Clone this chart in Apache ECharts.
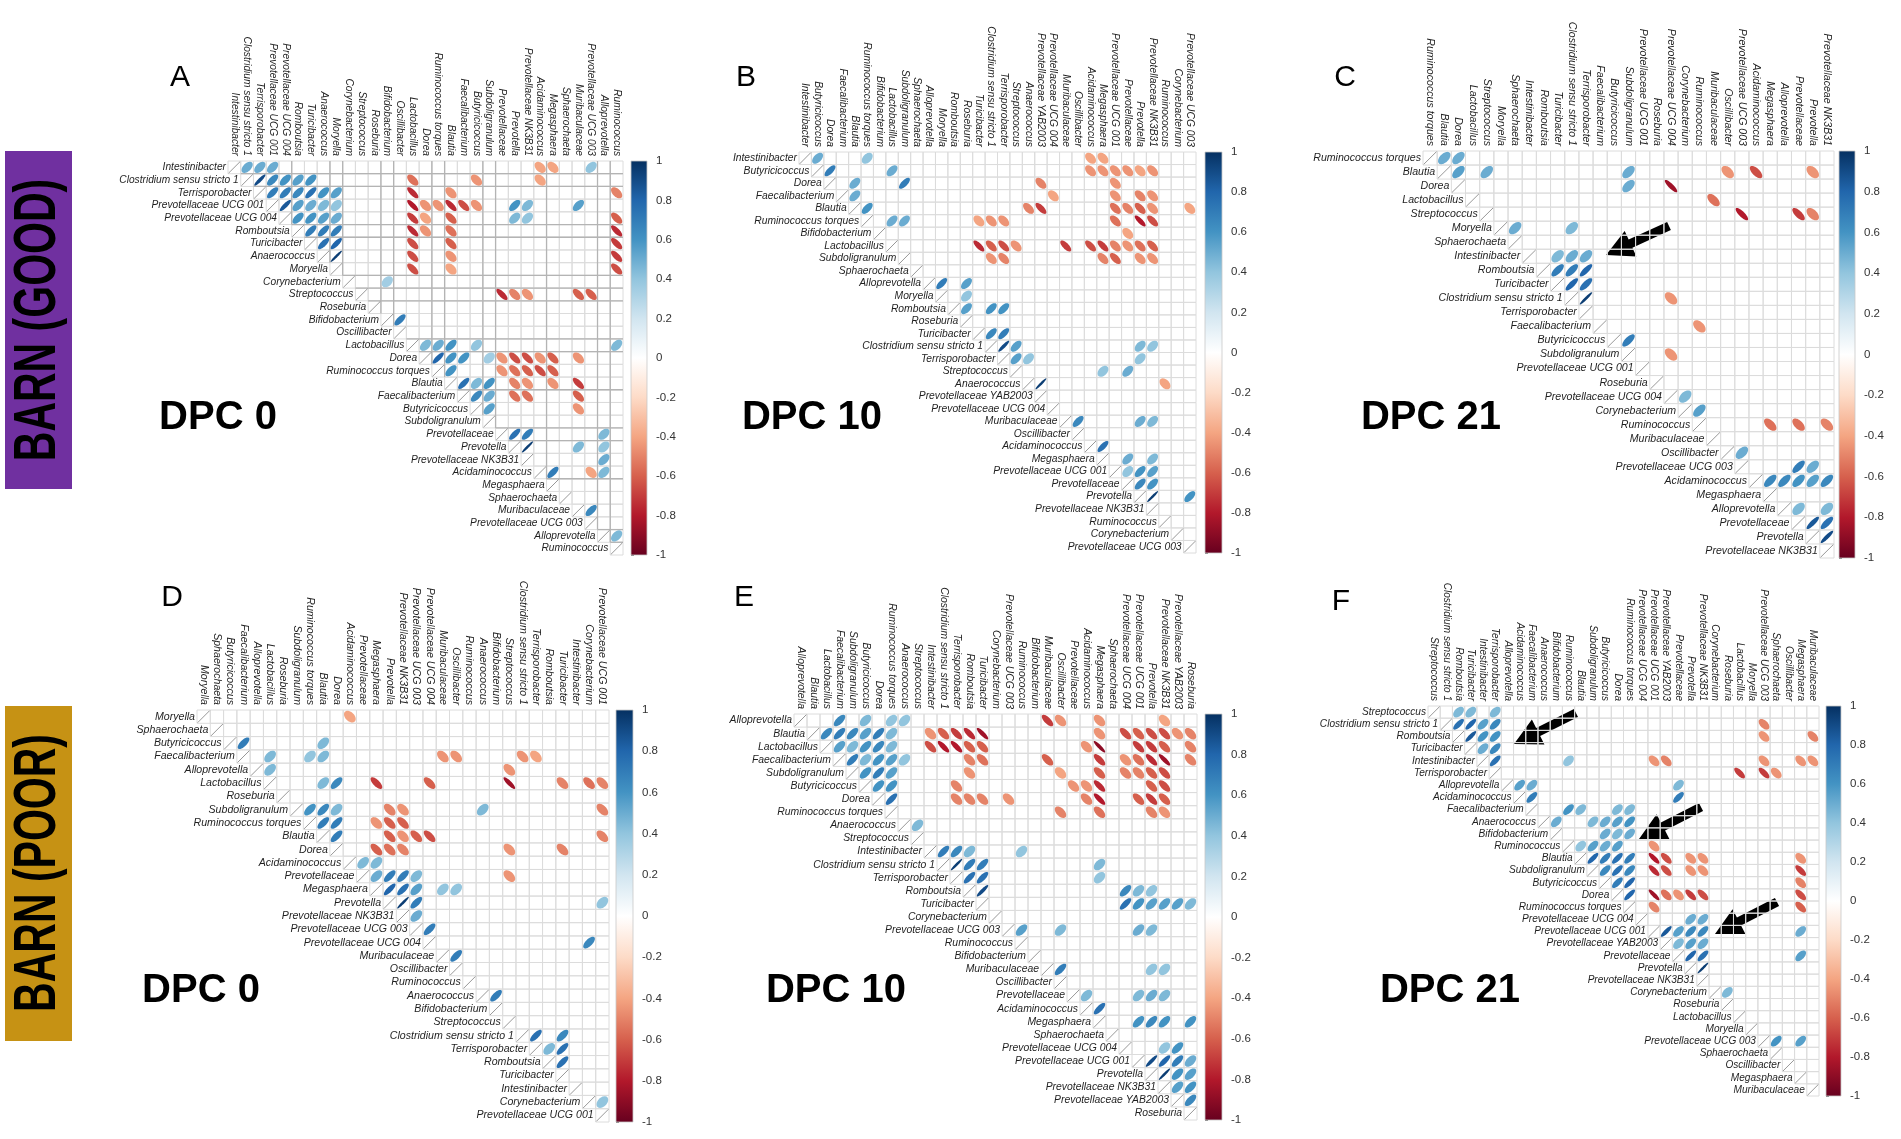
<!DOCTYPE html>
<html>
<head>
<meta charset="utf-8">
<title>Correlation matrices</title>
<script src="https://cdn.jsdelivr.net/npm/echarts/dist/echarts.min.js"></script>
<style>
  html, body { margin: 0; padding: 0; background: #fff; }
  #main { width: 1901px; height: 1139px; }
</style>
</head>
<body>
<div id="main"></div>
<script>
// ---- taxa order (rows = columns) per panel ----
const taxaA = ['Intestinibacter', 'Clostridium sensu stricto 1', 'Terrisporobacter', 'Prevotellaceae UCG 001', 'Prevotellaceae UCG 004', 'Romboutsia', 'Turicibacter', 'Anaerococcus', 'Moryella', 'Corynebacterium', 'Streptococcus', 'Roseburia', 'Bifidobacterium', 'Oscillibacter', 'Lactobacillus', 'Dorea', 'Ruminococcus torques', 'Blautia', 'Faecalibacterium', 'Butyricicoccus', 'Subdoligranulum', 'Prevotellaceae', 'Prevotella', 'Prevotellaceae NK3B31', 'Acidaminococcus', 'Megasphaera', 'Sphaerochaeta', 'Muribaculaceae', 'Prevotellaceae UCG 003', 'Alloprevotella', 'Ruminococcus']
const taxaB = ['Intestinibacter', 'Butyricicoccus', 'Dorea', 'Faecalibacterium', 'Blautia', 'Ruminococcus torques', 'Bifidobacterium', 'Lactobacillus', 'Subdoligranulum', 'Sphaerochaeta', 'Alloprevotella', 'Moryella', 'Romboutsia', 'Roseburia', 'Turicibacter', 'Clostridium sensu stricto 1', 'Terrisporobacter', 'Streptococcus', 'Anaerococcus', 'Prevotellaceae YAB2003', 'Prevotellaceae UCG 004', 'Muribaculaceae', 'Oscillibacter', 'Acidaminococcus', 'Megasphaera', 'Prevotellaceae UCG 001', 'Prevotellaceae', 'Prevotella', 'Prevotellaceae NK3B31', 'Ruminococcus', 'Corynebacterium', 'Prevotellaceae UCG 003']
const taxaC = ['Ruminococcus torques', 'Blautia', 'Dorea', 'Lactobacillus', 'Streptococcus', 'Moryella', 'Sphaerochaeta', 'Intestinibacter', 'Romboutsia', 'Turicibacter', 'Clostridium sensu stricto 1', 'Terrisporobacter', 'Faecalibacterium', 'Butyricicoccus', 'Subdoligranulum', 'Prevotellaceae UCG 001', 'Roseburia', 'Prevotellaceae UCG 004', 'Corynebacterium', 'Ruminococcus', 'Muribaculaceae', 'Oscillibacter', 'Prevotellaceae UCG 003', 'Acidaminococcus', 'Megasphaera', 'Alloprevotella', 'Prevotellaceae', 'Prevotella', 'Prevotellaceae NK3B31']
const taxaD = ['Moryella', 'Sphaerochaeta', 'Butyricicoccus', 'Faecalibacterium', 'Alloprevotella', 'Lactobacillus', 'Roseburia', 'Subdoligranulum', 'Ruminococcus torques', 'Blautia', 'Dorea', 'Acidaminococcus', 'Prevotellaceae', 'Megasphaera', 'Prevotella', 'Prevotellaceae NK3B31', 'Prevotellaceae UCG 003', 'Prevotellaceae UCG 004', 'Muribaculaceae', 'Oscillibacter', 'Ruminococcus', 'Anaerococcus', 'Bifidobacterium', 'Streptococcus', 'Clostridium sensu stricto 1', 'Terrisporobacter', 'Romboutsia', 'Turicibacter', 'Intestinibacter', 'Corynebacterium', 'Prevotellaceae UCG 001']
const taxaE = ['Alloprevotella', 'Blautia', 'Lactobacillus', 'Faecalibacterium', 'Subdoligranulum', 'Butyricicoccus', 'Dorea', 'Ruminococcus torques', 'Anaerococcus', 'Streptococcus', 'Intestinibacter', 'Clostridium sensu stricto 1', 'Terrisporobacter', 'Romboutsia', 'Turicibacter', 'Corynebacterium', 'Prevotellaceae UCG 003', 'Ruminococcus', 'Bifidobacterium', 'Muribaculaceae', 'Oscillibacter', 'Prevotellaceae', 'Acidaminococcus', 'Megasphaera', 'Sphaerochaeta', 'Prevotellaceae UCG 004', 'Prevotellaceae UCG 001', 'Prevotella', 'Prevotellaceae NK3B31', 'Prevotellaceae YAB2003', 'Roseburia']
const taxaF = ['Streptococcus', 'Clostridium sensu stricto 1', 'Romboutsia', 'Turicibacter', 'Intestinibacter', 'Terrisporobacter', 'Alloprevotella', 'Acidaminococcus', 'Faecalibacterium', 'Anaerococcus', 'Bifidobacterium', 'Ruminococcus', 'Blautia', 'Subdoligranulum', 'Butyricicoccus', 'Dorea', 'Ruminococcus torques', 'Prevotellaceae UCG 004', 'Prevotellaceae UCG 001', 'Prevotellaceae YAB2003', 'Prevotellaceae', 'Prevotella', 'Prevotellaceae NK3B31', 'Corynebacterium', 'Roseburia', 'Lactobacillus', 'Moryella', 'Prevotellaceae UCG 003', 'Sphaerochaeta', 'Oscillibacter', 'Megasphaera', 'Muribaculaceae']

// ---- significant correlations: [row, col, r] (upper triangle) ----
const corrA = [
  [0, 1, .5], [0, 2, .5], [0, 3, .5], [0, 24, -.4], [0, 25, -.4], [0, 28, .4],
  [1, 2, .9], [1, 3, .65], [1, 4, .6], [1, 5, .55], [1, 6, .6], [1, 14, -.55], [1, 19, -.45], [1, 24, -.4],
  [2, 3, .7], [2, 4, .7], [2, 5, .65], [2, 6, .75], [2, 7, .6], [2, 8, .55], [2, 14, -.75], [2, 17, -.45], [2, 30, -.5],
  [3, 4, .85], [3, 5, .55], [3, 6, .5], [3, 7, .45], [3, 8, .4], [3, 14, -.8], [3, 15, -.45], [3, 16, -.45], [3, 17, -.75], [3, 18, -.65], [3, 19, -.45], [3, 22, .6], [3, 23, .45], [3, 27, .55],
  [4, 5, .6], [4, 6, .6], [4, 7, .55], [4, 8, .5], [4, 14, -.7], [4, 15, -.4], [4, 17, -.6], [4, 22, .45], [4, 23, .4], [4, 30, -.6],
  [5, 6, .7], [5, 7, .7], [5, 8, .7], [5, 14, -.75], [5, 15, -.45], [5, 17, -.55], [5, 30, -.75],
  [6, 7, .75], [6, 8, .8], [6, 14, -.65], [6, 17, -.6], [6, 30, -.7],
  [7, 8, .95], [7, 14, -.65], [7, 17, -.45], [7, 30, -.7],
  [8, 14, -.65], [8, 17, -.4], [8, 30, -.65],
  [9, 12, .35],
  [10, 21, -.75], [10, 22, -.5], [10, 23, -.45], [10, 27, -.6], [10, 28, -.6],
  [12, 13, .7],
  [14, 15, .45], [14, 16, .5], [14, 17, .6], [14, 19, .4], [14, 30, .45],
  [15, 16, .8], [15, 17, .6], [15, 18, .6], [15, 20, .35], [15, 21, -.45], [15, 22, -.65], [15, 23, -.65], [15, 24, -.45], [15, 25, -.6], [15, 27, -.45],
  [16, 17, .6], [16, 21, -.45], [16, 22, -.55], [16, 23, -.6], [16, 24, -.65], [16, 25, -.6],
  [17, 18, .75], [17, 19, .45], [17, 20, .6], [17, 22, -.5], [17, 23, -.45], [17, 25, -.45], [17, 27, -.7],
  [18, 19, .65], [18, 20, .5], [18, 22, -.55], [18, 23, -.55], [18, 27, -.6],
  [19, 20, .55], [19, 27, -.45],
  [21, 22, .75], [21, 23, .7], [21, 29, .45],
  [22, 23, .95], [22, 27, .45], [22, 29, .4],
  [23, 29, .5],
  [24, 25, .7], [24, 28, -.4], [24, 29, .45],
  [27, 28, .65],
  [29, 30, .45]
]
const corrB = [
  [0, 1, .5], [0, 5, .4], [0, 23, -.4], [0, 24, -.4],
  [1, 2, .7], [1, 7, .5], [1, 23, -.45], [1, 24, -.45], [1, 25, -.45], [1, 26, -.45], [1, 27, -.4], [1, 28, -.45],
  [2, 4, .5], [2, 8, .7], [2, 19, -.5], [2, 25, -.45],
  [3, 4, .5], [3, 20, -.4], [3, 25, -.45], [3, 27, -.5], [3, 28, -.45],
  [4, 5, .6], [4, 18, -.5], [4, 19, -.7], [4, 25, -.55], [4, 26, -.5], [4, 27, -.6], [4, 28, -.45], [4, 31, -.4],
  [5, 7, .5], [5, 8, .5], [5, 14, -.4], [5, 15, -.45], [5, 16, -.45], [5, 25, -.55], [5, 27, -.8], [5, 28, -.65],
  [6, 26, -.4],
  [7, 14, -.75], [7, 15, -.6], [7, 16, -.65], [7, 17, -.45], [7, 21, -.7], [7, 23, -.65], [7, 24, -.7], [7, 25, -.5], [7, 26, -.45], [7, 27, -.55], [7, 28, -.6],
  [8, 15, -.45], [8, 16, -.5], [8, 24, -.5], [8, 25, -.6], [8, 27, -.45], [8, 28, -.45],
  [10, 11, .7], [10, 13, .55],
  [11, 13, .4],
  [12, 13, .55], [12, 15, .6], [12, 16, .6],
  [14, 15, .65], [14, 16, .7],
  [15, 16, .9], [15, 17, .55], [15, 27, .45], [15, 28, .4],
  [16, 17, .55], [16, 18, .4], [16, 27, .4],
  [17, 24, .4], [17, 26, .5],
  [18, 19, .95], [18, 29, -.4],
  [21, 22, .65], [21, 27, .5], [21, 28, .45],
  [23, 24, .75],
  [24, 26, .5], [24, 28, .45],
  [25, 26, .4], [25, 27, .6], [25, 28, .55],
  [26, 27, .65], [26, 28, .6],
  [27, 28, .95], [27, 31, .6]
]
const corrC = [
  [0, 1, .5], [0, 2, .5],
  [1, 2, .55], [1, 4, .5], [1, 14, .5], [1, 21, -.45], [1, 23, -.65], [1, 27, -.45],
  [2, 14, .5], [2, 17, -.85],
  [3, 20, -.55],
  [4, 22, -.8], [4, 26, -.7], [4, 27, -.5],
  [5, 6, .5], [5, 10, .45],
  [7, 9, .45], [7, 10, .5], [7, 11, .5],
  [8, 9, .7], [8, 10, .7], [8, 11, .8],
  [9, 10, .8], [9, 11, .75],
  [10, 11, .95], [10, 17, -.45],
  [12, 19, -.45],
  [13, 14, .7],
  [14, 17, -.45],
  [17, 18, .45],
  [18, 19, .55],
  [19, 24, -.55], [19, 26, -.55], [19, 28, -.5],
  [21, 22, .5],
  [22, 26, .7], [22, 27, .5],
  [23, 24, .65], [23, 25, .65], [23, 26, .6], [23, 27, .55], [23, 28, .65],
  [25, 26, .45], [25, 28, .45],
  [26, 27, .85], [26, 28, .75],
  [27, 28, .9]
]
const corrD = [
  [0, 11, -.4],
  [2, 3, .7], [2, 9, .45],
  [3, 5, .45], [3, 8, .4], [3, 9, .45], [3, 18, -.45], [3, 19, -.45], [3, 24, -.45], [3, 25, -.4],
  [4, 5, .45], [4, 23, -.45],
  [5, 9, .45], [5, 10, .65], [5, 13, -.7], [5, 17, -.6], [5, 23, -.85], [5, 27, -.5], [5, 29, -.55], [5, 30, -.5],
  [7, 8, .6], [7, 9, .65], [7, 10, .45], [7, 14, -.5], [7, 15, -.45], [7, 21, .45], [7, 30, -.5],
  [8, 9, .7], [8, 10, .7], [8, 13, -.45], [8, 14, -.6], [8, 15, -.6],
  [9, 10, .7], [9, 14, -.6], [9, 15, -.45], [9, 16, -.6], [9, 17, -.65], [9, 30, -.5],
  [10, 13, -.6], [10, 14, -.55], [10, 15, -.5], [10, 23, -.45], [10, 27, -.5],
  [11, 12, .45], [11, 13, .45],
  [12, 13, .5], [12, 14, .7], [12, 15, .7], [12, 16, .45], [12, 23, -.45],
  [13, 14, .8], [13, 15, .75], [13, 16, .55], [13, 18, .4], [13, 19, .4],
  [14, 15, .95], [14, 16, .7], [14, 30, .4],
  [15, 16, .5],
  [16, 17, .7],
  [17, 29, .65],
  [18, 19, .7],
  [21, 22, .7],
  [24, 25, .75], [24, 27, .65],
  [25, 26, .45], [25, 27, .75],
  [26, 27, .75],
  [29, 30, .4]
]
const corrE = [
  [0, 3, .65], [0, 5, .45], [0, 7, .4], [0, 8, .4], [0, 19, -.7], [0, 20, -.45], [0, 23, -.45], [0, 28, -.4],
  [1, 2, .65], [1, 3, .7], [1, 4, .65], [1, 5, .55], [1, 6, .7], [1, 7, .45], [1, 10, -.45], [1, 11, -.6], [1, 12, -.7], [1, 13, -.75], [1, 14, -.85], [1, 23, -.45], [1, 25, -.65], [1, 26, -.6], [1, 27, -.65], [1, 28, -.65], [1, 29, -.45], [1, 30, -.5],
  [2, 3, .55], [2, 4, .45], [2, 5, .6], [2, 6, .65], [2, 7, .45], [2, 10, -.65], [2, 11, -.8], [2, 12, -.8], [2, 13, -.6], [2, 14, -.6], [2, 22, -.45], [2, 23, -.9], [2, 26, -.7], [2, 27, -.7], [2, 28, -.6], [2, 30, -.5],
  [3, 4, .7], [3, 5, .45], [3, 6, .6], [3, 7, .55], [3, 8, .4], [3, 13, -.5], [3, 14, -.55], [3, 19, -.6], [3, 23, -.7], [3, 25, -.45], [3, 26, -.55], [3, 27, -.75], [3, 28, -.85], [3, 30, -.5],
  [4, 5, .6], [4, 6, .7], [4, 7, .55], [4, 13, -.45], [4, 20, -.4], [4, 23, -.6], [4, 25, -.5], [4, 26, -.5], [4, 27, -.6], [4, 28, -.65],
  [5, 6, .6], [5, 7, .6], [5, 12, -.5], [5, 21, -.45], [5, 22, -.45], [5, 23, -.75], [5, 27, -.6], [5, 28, -.65],
  [6, 7, .75], [6, 12, -.5], [6, 13, -.5], [6, 14, -.5], [6, 16, -.45], [6, 22, -.5], [6, 23, -.8], [6, 26, -.6], [6, 27, -.7], [6, 28, -.6],
  [7, 20, -.5], [7, 23, -.55], [7, 27, -.5], [7, 28, -.45],
  [8, 9, .45],
  [10, 11, .7], [10, 12, .65], [10, 13, .45], [10, 17, .4],
  [11, 12, .95], [11, 13, .7], [11, 14, .7], [11, 23, .45],
  [12, 13, .75], [12, 14, .75], [12, 23, .4],
  [13, 14, .9], [13, 25, .65], [13, 26, .45], [13, 27, .4],
  [14, 25, .75], [14, 26, .6], [14, 27, .55], [14, 28, .55], [14, 29, .55], [14, 30, .45],
  [16, 17, .55], [16, 20, .45], [16, 26, .5], [16, 27, .45],
  [19, 20, .7], [19, 27, .4], [19, 28, .4],
  [21, 22, .45], [21, 26, .45], [21, 27, .5], [21, 28, .45],
  [22, 23, .75],
  [23, 26, .6], [23, 27, .65], [23, 28, .6], [23, 30, .6],
  [25, 28, .4], [25, 29, .6],
  [26, 27, .9], [26, 28, .8], [26, 29, .7], [26, 30, .5],
  [27, 28, .95], [27, 29, .6], [27, 30, .55],
  [28, 29, .55], [28, 30, .6],
  [29, 30, .65]
]
const corrF = [
  [0, 2, .45], [0, 3, .45], [0, 5, .45],
  [1, 2, .75], [1, 3, .8], [1, 4, .55], [1, 5, .65], [1, 27, -.5],
  [2, 3, .85], [2, 4, .6], [2, 5, .6], [2, 27, -.45], [2, 31, -.5],
  [3, 4, .5], [3, 5, .65],
  [4, 5, .75], [4, 11, .4], [4, 18, -.45], [4, 19, -.5], [4, 27, -.45], [4, 30, -.45], [4, 31, -.45],
  [5, 25, -.7], [5, 27, -.7], [5, 28, -.45],
  [6, 7, .55], [6, 8, .5], [6, 20, .45],
  [7, 8, .7], [7, 20, .7],
  [8, 11, .6], [8, 12, .45], [8, 15, .45], [8, 16, .45],
  [9, 10, .5], [9, 13, .45], [9, 14, .5], [9, 15, .55], [9, 16, .6],
  [10, 14, .5], [10, 15, .45], [10, 16, .5],
  [11, 12, .4], [11, 13, .55], [11, 14, .5], [11, 15, .55], [11, 18, -.45],
  [12, 13, .8], [12, 14, .7], [12, 15, .75], [12, 16, .7], [12, 18, -.8], [12, 19, -.65], [12, 21, -.45], [12, 22, -.45], [12, 30, -.45],
  [13, 14, .65], [13, 15, .75], [13, 16, .65], [13, 18, -.75], [13, 19, -.65], [13, 21, -.45], [13, 22, -.45], [13, 30, -.7],
  [14, 15, .7], [14, 16, .8], [14, 30, -.5],
  [15, 16, .8], [15, 18, -.85], [15, 19, -.55], [15, 20, -.45], [15, 21, -.7], [15, 22, -.65], [15, 30, -.65],
  [16, 18, -.5], [16, 30, -.6],
  [17, 21, .5], [17, 22, .5],
  [18, 19, .85], [18, 20, .55], [18, 21, .65], [18, 22, .65], [18, 30, .5],
  [19, 20, .45], [19, 21, .55], [19, 22, .5],
  [20, 21, .8], [20, 22, .75], [20, 30, .55],
  [21, 22, .95],
  [23, 24, .45],
  [27, 28, .6], [27, 30, .55]
]
// cluster boundaries drawn darker in panel A
const vLinesA = [5, 8, 9, 12, 13, 16, 17, 20, 21, 25, 29, 30]
const hLinesA = [1, 2, 5, 6, 9, 10, 11, 14, 15, 18, 21, 22, 25, 29, 30]

// ---- layout ----
const FONT = '"Liberation Sans", Arial, sans-serif'
const panels = [
  { letter: 'A', dpc: 'DPC 0', taxa: taxaA, corr: corrA, grid: [228, 161, 395, 394], bar: [631, 161, 16, 394], fs: 10.2, letterAt: [180, 78], dpcAt: [218, 418] },
  { letter: 'B', dpc: 'DPC 10', taxa: taxaB, corr: corrB, grid: [799, 152, 397, 401], bar: [1205, 152, 17, 401], fs: 10.3, letterAt: [746, 78], dpcAt: [812, 418] },
  { letter: 'C', dpc: 'DPC 21', taxa: taxaC, corr: corrC, grid: [1423, 151, 411, 407], bar: [1839, 151, 16, 407], fs: 10.6, letterAt: [1345, 78], dpcAt: [1431, 418] },
  { letter: 'D', dpc: 'DPC 0', taxa: taxaD, corr: corrD, grid: [197, 710, 412, 412], bar: [616, 710, 17, 412], fs: 10.6, letterAt: [172, 598], dpcAt: [201, 991] },
  { letter: 'E', dpc: 'DPC 10', taxa: taxaE, corr: corrE, grid: [794, 714, 403, 406], bar: [1205, 714, 17, 406], fs: 10.4, letterAt: [744, 598], dpcAt: [836, 991] },
  { letter: 'F', dpc: 'DPC 21', taxa: taxaF, corr: corrF, grid: [1428, 706, 391, 390], bar: [1826, 706, 15, 390], fs: 10.1, letterAt: [1341, 602], dpcAt: [1450, 991] }
]

const RDBU = ['#67001F', '#B2182B', '#D6604D', '#F4A582', '#FDDBC7', '#FFFFFF', '#D1E5F0', '#92C5DE', '#4393C3', '#2166AC', '#053061']

function hexRgb(h) {
  return [parseInt(h.slice(1, 3), 16), parseInt(h.slice(3, 5), 16), parseInt(h.slice(5, 7), 16)]
}
function colorOf(r) {
  const t = (Math.max(-1, Math.min(1, r)) + 1) / 2 * 10
  const i = Math.min(9, Math.floor(t))
  const f = t - i
  const a = hexRgb(RDBU[i]), b = hexRgb(RDBU[i + 1])
  const c = a.map((v, k) => Math.round(v + (b[k] - v) * f))
  return 'rgb(' + c.join(',') + ')'
}

function renderCell(params, api) {
  const c = api.coord([api.value(0), api.value(1)])
  const s = api.size([1, 1])
  return {
    type: 'rect',
    shape: { x: c[0] - s[0] / 2, y: c[1] - s[1] / 2, width: s[0], height: s[1] },
    style: { fill: 'none', stroke: '#dcdcdc', lineWidth: 1 }
  }
}

function renderEllipse(params, api) {
  const c = api.coord([api.value(0), api.value(1)])
  const s = api.size([1, 1])
  const r = api.value(2)
  const d = Math.acos(r)
  const pts = []
  for (let k = 0; k < 60; k++) {
    const t = k / 60 * Math.PI * 2
    pts.push([c[0] + Math.cos(t + d / 2) * s[0] * 0.44, c[1] - Math.cos(t - d / 2) * s[1] * 0.44])
  }
  return { type: 'polygon', shape: { points: pts }, style: { fill: colorOf(r) } }
}

function makeDiag(taxa, fs) {
  return function (params, api) {
    const c = api.coord([api.value(0), api.value(1)])
    const s = api.size([1, 1])
    const hw = s[0] / 2, hh = s[1] / 2
    return {
      type: 'group',
      children: [
        { type: 'line', shape: { x1: c[0] - hw * 0.9, y1: c[1] + hh * 0.9, x2: c[0] + hw * 0.9, y2: c[1] - hh * 0.9 }, style: { stroke: '#8c8c8c', lineWidth: 0.9 } },
        { type: 'text', x: c[0] - hw - 2, y: c[1], style: { text: taxa[params.dataIndex], align: 'right', verticalAlign: 'middle', fontSize: fs, fontStyle: 'italic', fontFamily: FONT, fill: '#1f1f1f' } }
      ]
    }
  }
}

function makeVLine(n) {
  return function (params, api) {
    const b = api.value(0)
    const c = api.coord([b, b])
    const top = api.coord([b, 0])
    const s = api.size([1, 1])
    const x = c[0] - s[0] / 2
    return { type: 'line', shape: { x1: x, y1: top[1] - s[1] / 2, x2: x, y2: c[1] - s[1] / 2 }, style: { stroke: '#b4b4b4', lineWidth: 1.3 } }
  }
}
function makeHLine(n) {
  return function (params, api) {
    const b = api.value(0)
    const c = api.coord([b, b])
    const end = api.coord([n - 1, b])
    const s = api.size([1, 1])
    const y = c[1] - s[1] / 2
    return { type: 'line', shape: { x1: c[0] - s[0] / 2, y1: y, x2: end[0] + s[0] / 2, y2: y }, style: { stroke: '#b4b4b4', lineWidth: 1.3 } }
  }
}

function renderBar(params, api) {
  const p1 = api.coord([0, 1])
  const p2 = api.coord([1, -1])
  const stops = RDBU.slice().reverse().map((col, k) => ({ offset: k / 10, color: col }))
  return {
    type: 'rect',
    shape: { x: p1[0], y: p1[1], width: p2[0] - p1[0], height: p2[1] - p1[1] },
    style: { fill: new echarts.graphic.LinearGradient(0, 0, 0, 1, stops), stroke: '#c8c8c8', lineWidth: 0.8 }
  }
}

function arrow(tail, tip) {
  const dx = tip[0] - tail[0], dy = tip[1] - tail[1]
  const len = Math.sqrt(dx * dx + dy * dy)
  const ux = dx / len, uy = dy / len
  const nx = -uy, ny = ux
  const sw = 4.5, hw = 14, hl = 27
  const bx = tip[0] - ux * hl, by = tip[1] - uy * hl
  return {
    type: 'polygon',
    shape: {
      points: [
        [tail[0] + nx * sw, tail[1] + ny * sw], [bx + nx * sw, by + ny * sw], [bx + nx * hw, by + ny * hw],
        tip,
        [bx - nx * hw, by - ny * hw], [bx - nx * sw, by - ny * sw], [tail[0] - nx * sw, tail[1] - ny * sw]
      ]
    },
    style: { fill: '#000' }
  }
}

const grids = [], xAxes = [], yAxes = [], series = []
const graphics = []

panels.forEach((p, k) => {
  const n = p.taxa.length
  const gi = 2 * k, bi = 2 * k + 1
  grids.push({ left: p.grid[0], top: p.grid[1], width: p.grid[2], height: p.grid[3] })
  grids.push({ left: p.bar[0], top: p.bar[1], width: p.bar[2], height: p.bar[3] })
  xAxes.push({
    gridIndex: gi, type: 'category', data: p.taxa, position: 'top',
    axisLine: { show: false }, axisTick: { show: false }, splitLine: { show: false },
    axisLabel: { interval: 0, rotate: 90, margin: 5, fontSize: p.fs, fontStyle: 'italic', fontFamily: FONT, color: '#1f1f1f' }
  })
  yAxes.push({ gridIndex: gi, type: 'category', data: p.taxa, inverse: true, show: false })
  xAxes.push({ gridIndex: bi, type: 'value', min: 0, max: 1, show: false })
  yAxes.push({
    gridIndex: bi, type: 'value', min: -1, max: 1, interval: 0.2, position: 'right',
    axisLine: { show: false }, splitLine: { show: false },
    axisTick: { show: true, length: 3, lineStyle: { color: '#777' } },
    axisLabel: { fontSize: 11.5, color: '#333', margin: 9, fontFamily: FONT, formatter: v => String(+(+v).toFixed(1)) }
  })

  const cells = []
  for (let i = 0; i < n; i++) for (let j = i; j < n; j++) cells.push([j, i])
  series.push({ type: 'custom', xAxisIndex: gi, yAxisIndex: gi, data: cells, renderItem: renderCell, silent: true, z: 1 })
  if (k === 0) {
    series.push({ type: 'custom', xAxisIndex: gi, yAxisIndex: gi, data: vLinesA.map(b => [b, b]), renderItem: makeVLine(n), silent: true, z: 2 })
    series.push({ type: 'custom', xAxisIndex: gi, yAxisIndex: gi, data: hLinesA.map(b => [b, b]), renderItem: makeHLine(n), silent: true, z: 2 })
  }
  series.push({ type: 'custom', xAxisIndex: gi, yAxisIndex: gi, data: p.corr.map(d => [d[1], d[0], d[2]]), renderItem: renderEllipse, silent: true, z: 3 })
  series.push({ type: 'custom', xAxisIndex: gi, yAxisIndex: gi, data: p.taxa.map((t, i) => [i, i]), renderItem: makeDiag(p.taxa, p.fs), silent: true, z: 3 })
  series.push({ type: 'custom', xAxisIndex: bi, yAxisIndex: bi, data: [[0, 0]], renderItem: renderBar, silent: true, z: 2 })

  graphics.push({ type: 'text', x: p.letterAt[0], y: p.letterAt[1], style: { text: p.letter, font: '30px ' + FONT, fill: '#000', align: 'center', verticalAlign: 'middle' } })
  graphics.push({ type: 'text', x: p.dpcAt[0], y: p.dpcAt[1], style: { text: p.dpc, font: 'bold 40px ' + FONT, fill: '#000', align: 'center', verticalAlign: 'middle' } })
})

graphics.push({ type: 'rect', shape: { x: 5, y: 151, width: 67, height: 338 }, style: { fill: '#7030A0' } })
graphics.push({ type: 'text', x: 39, y: 320, rotation: Math.PI / 2, scaleY: 1.45, style: { text: 'BARN (GOOD)', font: 'bold 41px ' + FONT, fill: '#000', align: 'center', verticalAlign: 'middle' } })
graphics.push({ type: 'rect', shape: { x: 5, y: 706, width: 67, height: 335 }, style: { fill: '#C69214' } })
graphics.push({ type: 'text', x: 39, y: 873, rotation: Math.PI / 2, scaleY: 1.45, style: { text: 'BARN (POOR)', font: 'bold 41px ' + FONT, fill: '#000', align: 'center', verticalAlign: 'middle' } })

graphics.push(arrow([1669, 226], [1606, 255]))
graphics.push(arrow([1576, 713], [1514, 744]))
graphics.push(arrow([1701, 807], [1639, 839]))
graphics.push(arrow([1777, 902], [1715, 934]))

const chart = echarts.init(document.getElementById('main'), null, { renderer: 'canvas' })
chart.setOption({
  backgroundColor: '#fff',
  animation: false,
  grid: grids,
  xAxis: xAxes,
  yAxis: yAxes,
  series: series,
  graphic: graphics
})
</script>
</body>
</html>
